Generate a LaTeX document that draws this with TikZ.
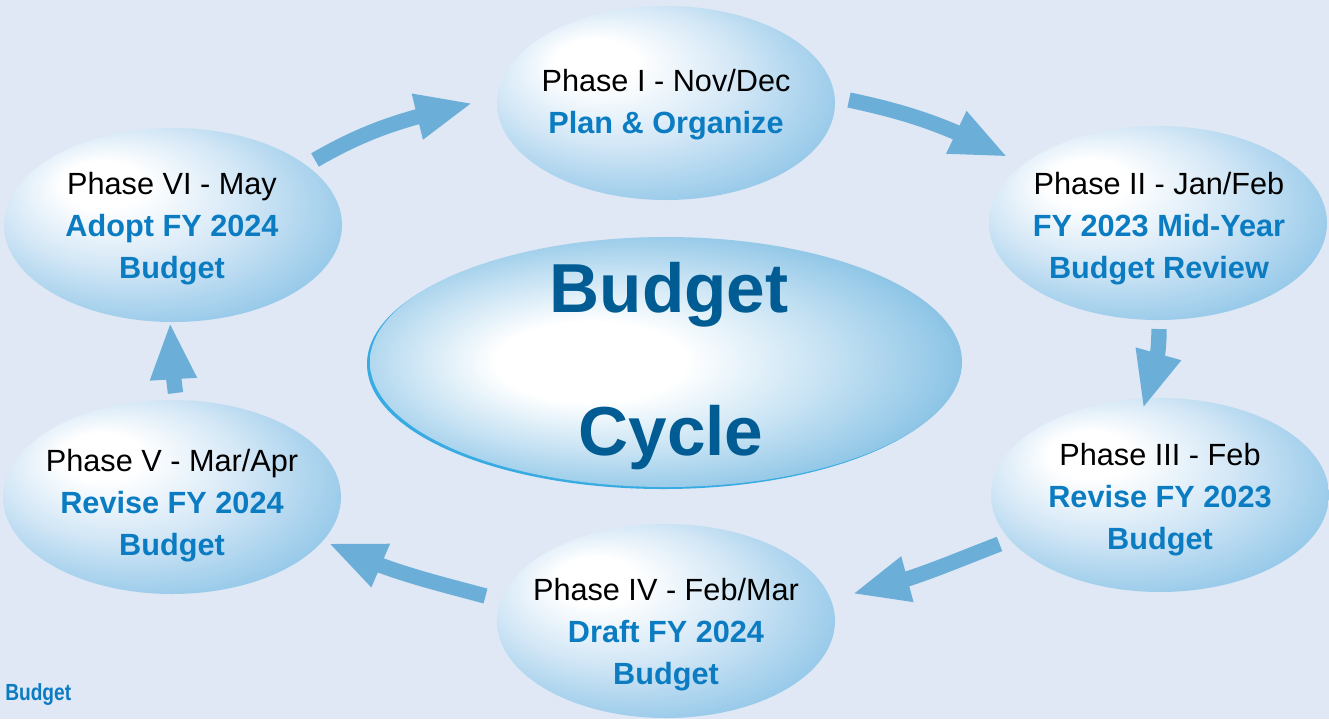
\documentclass[tikz,border=0pt]{standalone}
\usepackage{fontspec}
\setmainfont{Liberation Sans}
\usetikzlibrary{shapes.geometric,arrows.meta,bending}
\definecolor{bgc}{HTML}{DFE8F4}
\definecolor{arrowc}{HTML}{6BAFD9}
\definecolor{tblue}{HTML}{0B7CC1}
\definecolor{cblue}{HTML}{005C93}
\definecolor{rimc}{HTML}{38ACE2}
\definecolor{sA}{HTML}{D3E7F6}
\definecolor{sB}{HTML}{9ACBEA}
\definecolor{sC}{HTML}{58A4D4}
\definecolor{sD}{HTML}{4191C6}
\definecolor{cA}{HTML}{C6E2F3}
\definecolor{cB}{HTML}{95C9E8}
\definecolor{cC}{HTML}{5DA8D6}
\definecolor{cD}{HTML}{3690C6}
\pgfdeclareradialshading{phaseshade}{\pgfpoint{-12bp}{12bp}}{%
  color(0bp)=(white); color(6bp)=(white); color(18bp)=(sA);
  color(30bp)=(sB); color(40bp)=(sC); color(46bp)=(sD)}
\pgfdeclareradialshading{centershade}{\pgfpoint{-8bp}{0bp}}{%
  color(0bp)=(white); color(8bp)=(white); color(18bp)=(cA);
  color(26bp)=(cB); color(34bp)=(cC); color(40bp)=(cD)}
\tikzset{
  phase/.style={ellipse, inner sep=0pt, minimum width=253.5pt, minimum height=145.5pt,
    shade, shading=phaseshade},
  ptext/.style={align=center, inner sep=0pt, font=\fontsize{23}{31.5}\selectfont},
  arr/.style={draw=arrowc, line width=11.5pt, line cap=butt,
    -{Triangle[width=32pt,length=43pt]}},
}
\newcommand{\bt}[1]{\textcolor{tblue}{\bfseries #1}}
\begin{document}
\begin{tikzpicture}[x=0.75pt,y=0.75pt]
\useasboundingbox (0,0) rectangle (1329,-719);
\fill[bgc] (0,0) rectangle (1329,-719);

% centre ellipse
\node[ellipse, inner sep=0pt, minimum width=444pt, minimum height=187.5pt, fill=rimc] (crim) at (663,-364) {};
\node[ellipse, inner sep=0pt, minimum width=444pt, minimum height=187.5pt, shade, shading=centershade] (c) at (666,-362) {};
\node[anchor=base, inner sep=0pt, text=cblue, font=\fontsize{52}{60}\selectfont\bfseries] (cb) at (669,-312) {Budget};
\node[anchor=base, inner sep=0pt, text=cblue, font=\fontsize{52}{60}\selectfont\bfseries] (cc) at (671,-455) {Cycle};

% phase ellipses
\node[phase] (p1) at (666,-103) {};
\node[phase] (p2) at (1158,-223) {};
\node[phase] (p3) at (1160,-495) {};
\node[phase] (p4) at (666,-621) {};
\node[phase] (p5) at (172,-497) {};
\node[phase] (p6) at (173,-225) {};

\node[ptext] (t1) at (666,-105) {Phase I - Nov/Dec\\\bt{Plan \& Organize}};
\node[ptext] (t2) at (1159,-229) {Phase II - Jan/Feb\\\bt{FY 2023 Mid-Year}\\\bt{Budget Review}};
\node[ptext] (t3) at (1160,-500) {Phase III - Feb\\\bt{Revise FY 2023}\\\bt{Budget}};
\node[ptext] (t4) at (666,-635) {Phase IV - Feb/Mar\\\bt{Draft FY 2024}\\\bt{Budget}};
\node[ptext] (t5) at (172,-506) {Phase V - Mar/Apr\\\bt{Revise FY 2024}\\\bt{Budget}};
\node[ptext] (t6) at (172,-229) {Phase VI - May\\\bt{Adopt FY 2024}\\\bt{Budget}};

% arrow end points
\coordinate (a1s) at (315,-160); \coordinate (a1e) at (473,-103);
\coordinate (a2s) at (849,-100); \coordinate (a2e) at (1008,-157);
\coordinate (a3s) at (1159,-329); \coordinate (a3e) at (1143,-409);
\coordinate (a4s) at (999.5,-544); \coordinate (a4e) at (852,-594);
\coordinate (a5s) at (485.5,-596); \coordinate (a5e) at (328,-543);
\coordinate (a6s) at (175.5,-393); \coordinate (a6e) at (170,-322);

\draw[arr] (a1s) to[out=30,in=193] (a1e);
\draw[arr] (a2s) to[out=-12,in=153] (a2e);
\draw[arr] (a3s) to[out=-90,in=71] (a3e);
\draw[arr] (a4s) to[out=201,in=12.6] (a4e);
\draw[arr] (a5s) to[out=165,in=-25.5] (a5e);
\draw[arr] (a6s) to[out=97,in=-90] (a6e);

\node[anchor=base west, inner sep=0pt, text=tblue, font=\fontsize{17.5}{20}\selectfont\bfseries] (foot) at (5,-700) {\scalebox{0.82}[1]{Budget}};
\end{tikzpicture}
\end{document}
